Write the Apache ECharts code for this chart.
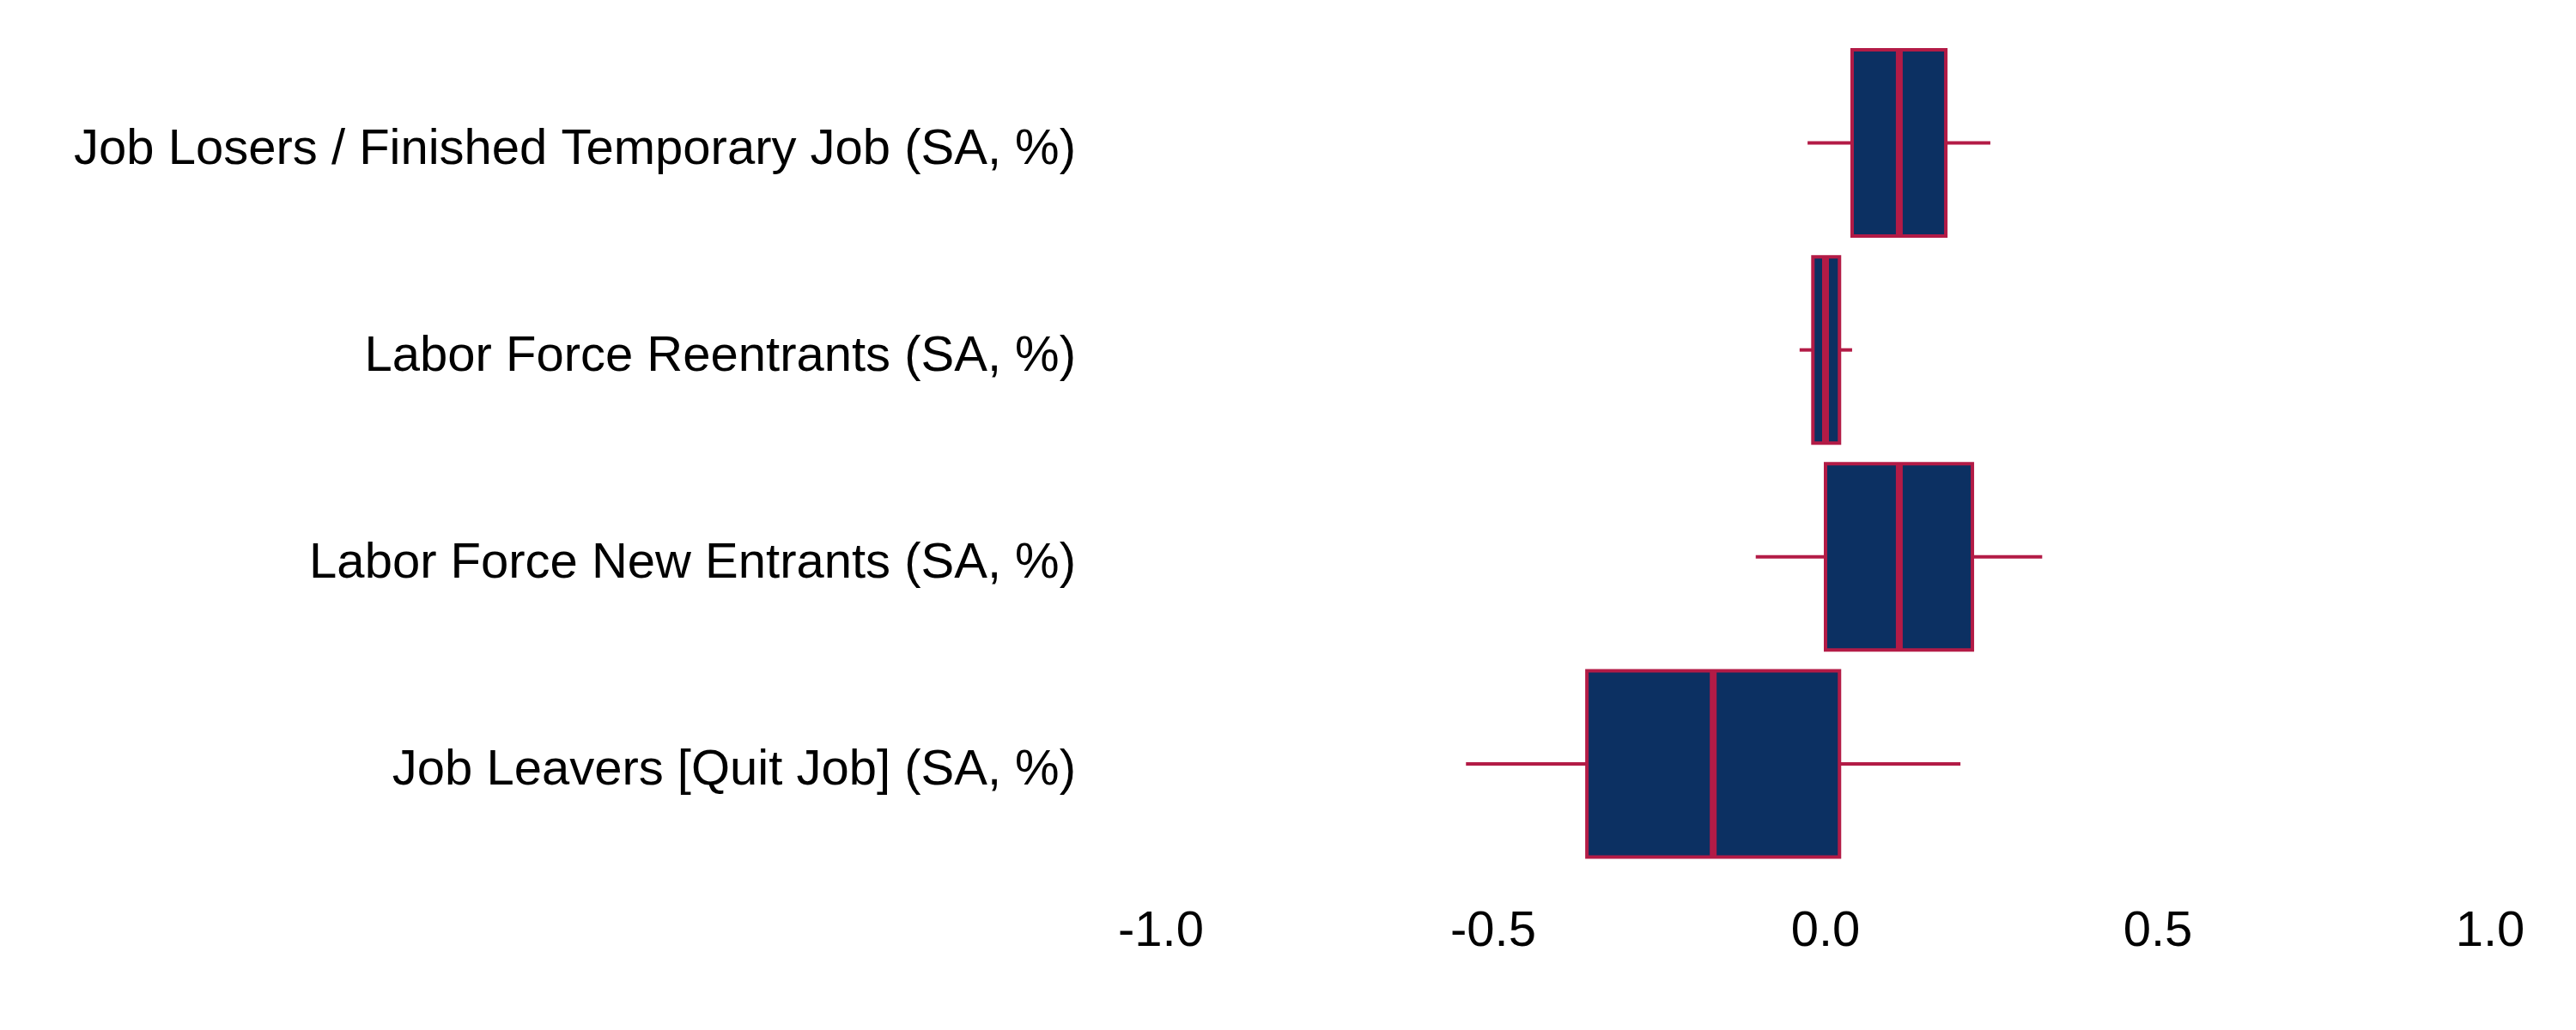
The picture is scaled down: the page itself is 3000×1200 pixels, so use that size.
<!DOCTYPE html>
<html>
<head>
<meta charset="utf-8">
<script src="https://cdn.jsdelivr.net/npm/echarts@6/dist/echarts.min.js"></script>
<style>
html,body{margin:0;padding:0;background:#fff;}
#chart{width:3000px;height:1200px;}
</style>
</head>
<body>
<div id="chart"></div>
<script>
// Categories, bottom to top
const categories = [
  'Job Leavers [Quit Job] (SA, %)',
  'Labor Force New Entrants (SA, %)',
  'Labor Force Reentrants (SA, %)',
  'Job Losers / Finished Temporary Job (SA, %)'
];
// Box statistics per category
const whiskerLow = [-0.541, -0.105, -0.039, -0.027];
const q1Values   = [-0.359,  0.000, -0.019,  0.040];
const medians    = [-0.169,  0.111,  0.000,  0.111];
const q3Values   = [ 0.021,  0.221,  0.021,  0.181];
const whiskerHigh= [ 0.203,  0.326,  0.040,  0.248];
const xTicks = [-1.0, -0.5, 0.0, 0.5, 1.0];

const FILL = '#0C3062';
const LINE = '#B31B46';

const data = categories.map((c, i) => [i, whiskerLow[i], q1Values[i], medians[i], q3Values[i], whiskerHigh[i]]);

const chart = echarts.init(document.getElementById('chart'), null, {renderer: 'canvas'});
chart.setOption({
  backgroundColor: '#ffffff',
  animation: false,
  grid: {left: 1352, right: 100, top: 46, bottom: 189.5, containLabel: false},
  xAxis: {
    type: 'value',
    min: xTicks[0],
    max: xTicks[xTicks.length - 1],
    interval: 0.5,
    axisLine: {show: false},
    axisTick: {show: false},
    splitLine: {show: false},
    axisLabel: {
      fontFamily: 'Liberation Sans, Arial, sans-serif',
      fontSize: 58,
      color: '#000',
      margin: 46,
      formatter: v => v.toFixed(1)
    }
  },
  yAxis: {
    type: 'category',
    data: categories,
    axisLine: {show: false},
    axisTick: {show: false},
    splitLine: {show: false},
    axisLabel: {
      color: '#000',
      margin: 99,
      formatter: v => '{a|' + v + '}',
      rich: {
        a: {
          fontFamily: 'Liberation Sans, Arial, sans-serif',
          fontSize: 58,
          color: '#000',
          padding: [16, 0, 0, 0]
        }
      }
    }
  },
  series: [{
    type: 'custom',
    data: data,
    encode: {x: [1, 2, 3, 4, 5], y: 0},
    renderItem: function (params, api) {
      const c = api.value(0);
      const yC = api.coord([0, c])[1];
      const band = api.size([0, 1])[1];
      const h = band * 0.9;
      const xLo = api.coord([api.value(1), c])[0];
      const xQ1 = api.coord([api.value(2), c])[0];
      const xMd = api.coord([api.value(3), c])[0];
      const xQ3 = api.coord([api.value(4), c])[0];
      const xHi = api.coord([api.value(5), c])[0];
      return {
        type: 'group',
        children: [
          {type: 'line', shape: {x1: xLo, y1: yC, x2: xQ1, y2: yC}, style: {stroke: LINE, lineWidth: 4}},
          {type: 'line', shape: {x1: xQ3, y1: yC, x2: xHi, y2: yC}, style: {stroke: LINE, lineWidth: 4}},
          {type: 'rect', shape: {x: xQ1, y: yC - h / 2, width: xQ3 - xQ1, height: h}, style: {fill: FILL, stroke: LINE, lineWidth: 4}},
          {type: 'line', shape: {x1: xMd, y1: yC - h / 2, x2: xMd, y2: yC + h / 2}, style: {stroke: LINE, lineWidth: 8}}
        ]
      };
    }
  }]
});
</script>
</body>
</html>
